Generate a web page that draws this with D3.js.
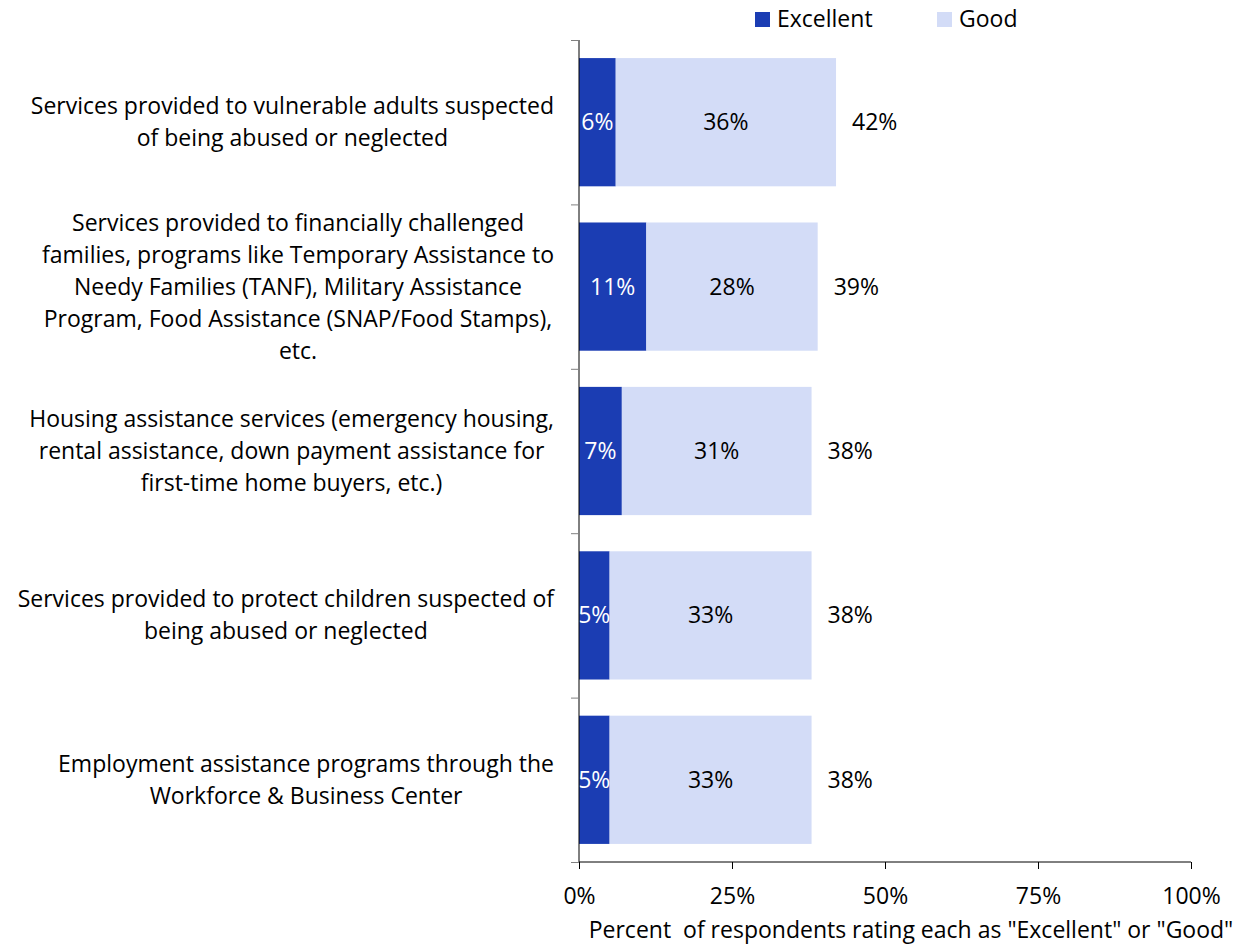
<!DOCTYPE html>
<html>
<head>
<meta charset="utf-8">
<script src="https://cdn.jsdelivr.net/npm/d3@7"></script>
<style>
  body { margin: 0; background: #fff; }
  text { font-family: "Open Sans", Lato, sans-serif; fill: #000; }
</style>
</head>
<body>
<script>
// categories, one array of lines per bar
const categories = [
  ["Services provided to vulnerable adults suspected", "of being abused or neglected"],
  ["Services provided to financially challenged", "families, programs like Temporary Assistance to", "Needy Families (TANF), Military Assistance", "Program, Food Assistance (SNAP/Food Stamps),", "etc."],
  ["Housing assistance services (emergency housing,", "rental assistance, down payment assistance for", "first-time home buyers, etc.)"],
  ["Services provided to protect children suspected of", "being abused or neglected"],
  ["Employment assistance programs through the", "Workforce & Business Center"]
]
const excellent = [6, 11, 7, 5, 5]
const good = [36, 28, 31, 33, 33]
const xTicks = [0, 25, 50, 75, 100]
const seriesNames = ["Excellent", "Good"]
const colors = ["#1b3db3", "#d3dcf7"]

const width = 1248, height = 944
const mLeft = 579, mRight = 1191, mTop = 40, mBottom = 862
const fs = 23

const svg = d3.select("body").append("svg")
  .attr("width", width)
  .attr("height", height)

const x = d3.scaleLinear().domain([0, 100]).range([mLeft, mRight])
const y = d3.scaleBand().domain(d3.range(categories.length))
  .range([mTop, mBottom]).paddingInner(0.22).paddingOuter(0.11)

const rows = categories.map((c, i) => ({i, e: excellent[i], g: good[i]}))

// bars
const bar = svg.selectAll("g.bar").data(rows).enter().append("g").attr("class", "bar")
bar.append("rect")
  .attr("x", x(0)).attr("y", d => y(d.i))
  .attr("width", d => x(d.e) - x(0)).attr("height", y.bandwidth())
  .attr("fill", colors[0])
bar.append("rect")
  .attr("x", d => x(d.e)).attr("y", d => y(d.i))
  .attr("width", d => x(d.e + d.g) - x(d.e)).attr("height", y.bandwidth())
  .attr("fill", colors[1])

// value labels
bar.append("text")
  .attr("x", d => (x(0) + x(d.e)) / 2).attr("y", d => y(d.i) + y.bandwidth() / 2)
  .attr("dy", "0.35em").attr("text-anchor", "middle").attr("font-size", fs)
  .style("fill", "#fff")
  .text(d => d.e + "%")
bar.append("text")
  .attr("x", d => (x(d.e) + x(d.e + d.g)) / 2).attr("y", d => y(d.i) + y.bandwidth() / 2)
  .attr("dy", "0.35em").attr("text-anchor", "middle").attr("font-size", fs)
  .text(d => d.g + "%")
bar.append("text")
  .attr("x", d => x(d.e + d.g) + 16).attr("y", d => y(d.i) + y.bandwidth() / 2)
  .attr("dy", "0.35em").attr("font-size", fs)
  .text(d => (d.e + d.g) + "%")

// y axis
const yAxis = d3.scaleLinear().domain([0, categories.length]).range([mTop, mBottom])
const gy = svg.append("g").attr("transform", `translate(${mLeft},0)`)
  .call(d3.axisLeft(yAxis).ticks(5).tickSize(8).tickFormat(""))
gy.select(".domain").attr("stroke", "#000").attr("d", `M0,${mTop}V${mBottom}`)
gy.selectAll(".tick line").attr("stroke", "#808080")

// x axis
const gx = svg.append("g").attr("transform", `translate(0,${mBottom})`)
  .call(d3.axisBottom(x).tickValues(xTicks).tickSize(7).tickPadding(19).tickFormat(d => d + "%"))
gx.select(".domain").attr("stroke", "#000").attr("d", `M${mLeft},0H${mRight}`)
gx.selectAll(".tick line").attr("stroke", "#000")
gx.selectAll(".tick text").attr("font-size", fs).attr("font-family", "Open Sans").style("fill", "#000")

svg.append("text")
  .attr("x", 911).attr("y", 938).attr("text-anchor", "middle").attr("font-size", fs)
  .style("white-space", "pre")
  .text('Percent  of respondents rating each as "Excellent" or "Good"')

// category labels, centred block with right edge near the axis
const lh = 32
categories.forEach((lines, i) => {
  const g = svg.append("g")
  const t = g.selectAll("text").data(lines).enter().append("text")
    .attr("font-size", fs).attr("text-anchor", "middle")
    .attr("y", (d, j) => y(i) + y.bandwidth() / 2 + (j - (lines.length - 1) / 2) * lh)
    .attr("dy", "0.35em")
    .text(d => d)
  let w = 0
  t.each(function() { w = Math.max(w, this.getComputedTextLength()) })
  t.attr("x", 554 - w / 2)
})

// legend
const leg = svg.append("g")
const lx = [755, 937]
seriesNames.forEach((s, i) => {
  leg.append("rect").attr("x", lx[i]).attr("y", 12).attr("width", 15).attr("height", 15).attr("fill", colors[i])
  leg.append("text").attr("x", lx[i] + 22).attr("y", 19).attr("dy", "0.35em").attr("font-size", fs).text(s)
})
</script>
</body>
</html>
